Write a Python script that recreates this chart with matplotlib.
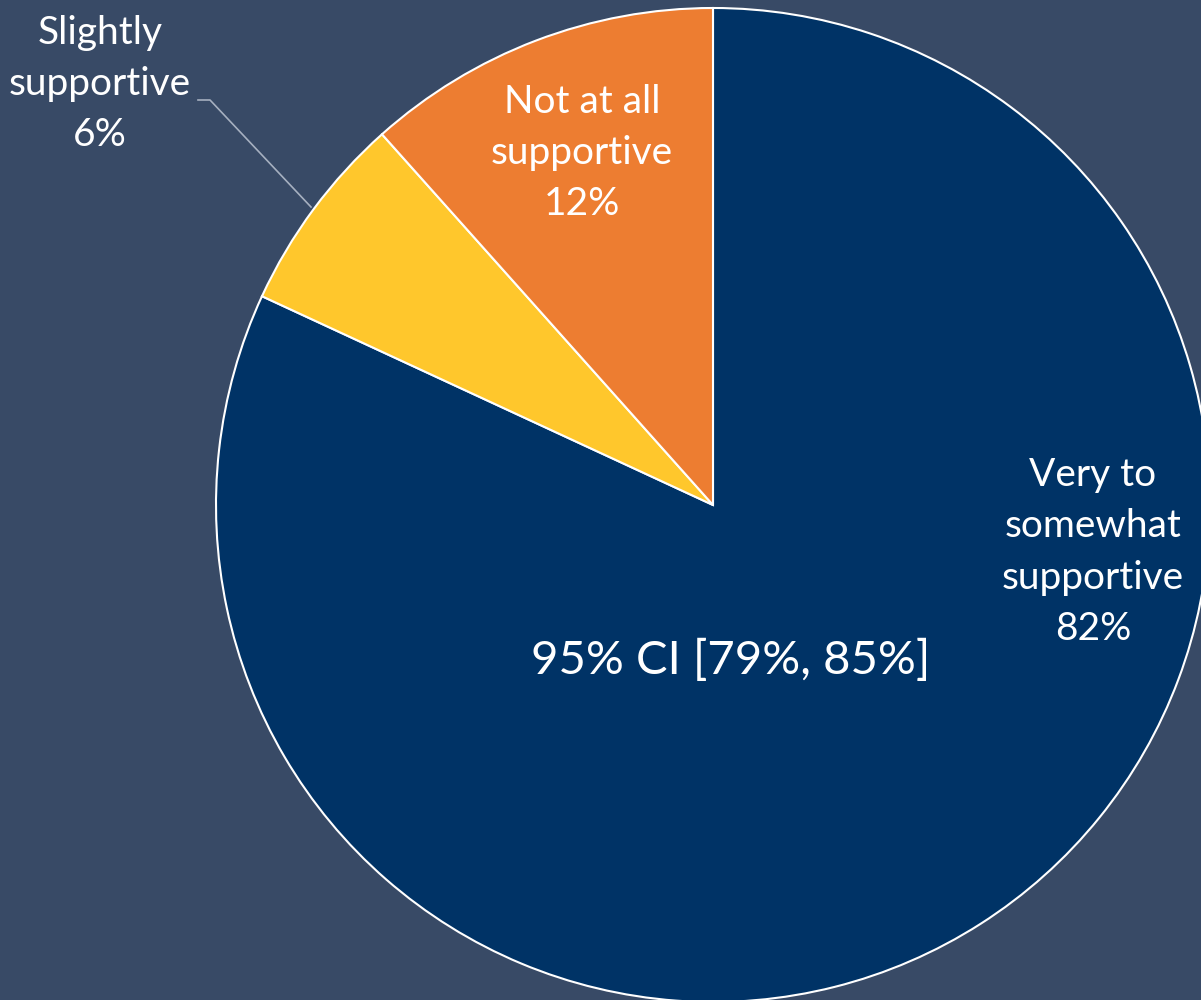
import matplotlib
matplotlib.use('Agg')
import matplotlib.pyplot as plt

# slices go clockwise from 12 o'clock
labels = ['Very to\nsomewhat\nsupportive', 'Slightly\nsupportive', 'Not at all\nsupportive']
shares = [81.9, 6.5, 11.6]   # slice sizes as drawn
pct_text = ['82%', '6%', '12%']  # rounded values printed on the chart
colors = ['#003366', '#FFC72C', '#ED7D31']
ci_text = '95% CI [79%, 85%]'

bg = '#384A66'
plt.rcParams['font.family'] = ['Lato', 'DejaVu Sans']

fig = plt.figure(figsize=(12.01, 10), dpi=100)
fig.patch.set_facecolor(bg)
# pie centre ~ (713, 505) px, radius ~497 px
cx, cy, r = 713, 505, 497
ax = fig.add_axes([(cx - r) / 1201, (1000 - cy - r) / 1000, 2 * r / 1201, 2 * r / 1000])
ax.set_facecolor(bg)

wedges, _ = ax.pie(shares, colors=colors, startangle=90, counterclock=False,
                   radius=1, wedgeprops=dict(edgecolor='white', linewidth=1.5))
for w in wedges:
    w.set_clip_on(False)
ax.set_xlim(-1, 1)
ax.set_ylim(-1, 1)
ax.set_aspect('equal')
ax.axis('off')

def px(x, y):
    return (x - cx) / r, (cy - y) / r

fs = 28
ls = 1.53
ax.text(*px(1093, 552), f'{labels[0]}\n{pct_text[0]}', color='white', fontsize=fs,
        ha='center', va='center', linespacing=ls)
ax.text(*px(582, 153), f'{labels[2]}\n{pct_text[2]}', color='white', fontsize=fs,
        ha='center', va='center', linespacing=ls)
ax.text(*px(100, 84), f'{labels[1]}\n{pct_text[1]}', color='white', fontsize=fs,
        ha='center', va='center', linespacing=ls, clip_on=False)
ax.text(*px(731, 660), ci_text, color='white', fontsize=34, ha='center', va='center')

# leader line for the small slice
pts = [px(198, 100), px(210, 100), px(311, 207)]
ax.plot([p[0] for p in pts], [p[1] for p in pts], color='#A6B0C0', lw=1.2, clip_on=False)

fig.savefig('out.png', dpi=100, facecolor=bg)
